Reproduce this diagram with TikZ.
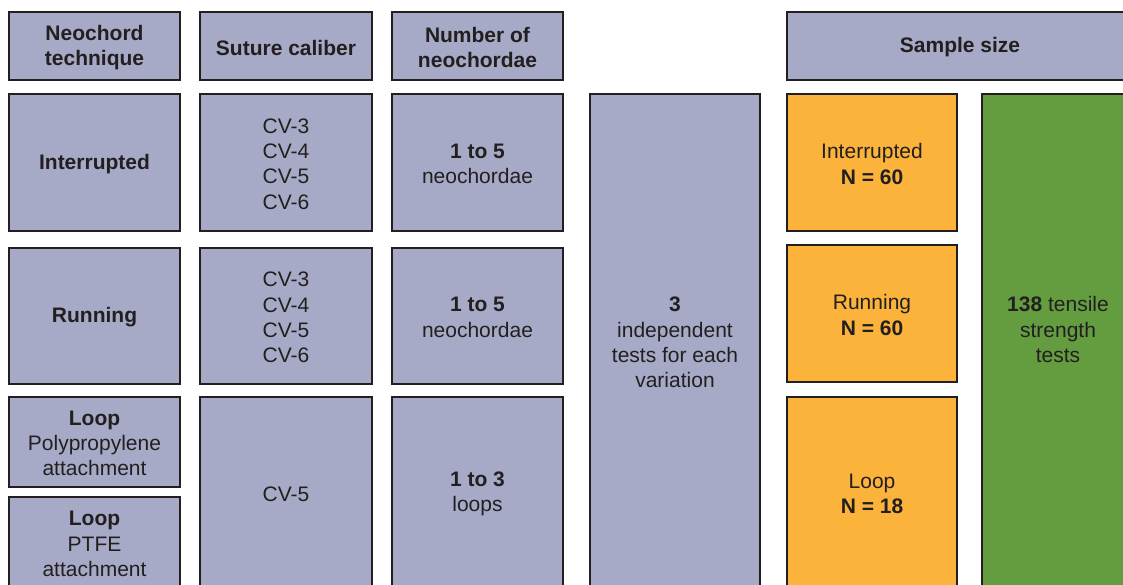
\documentclass[tikz,border=0pt]{standalone}
\usepackage{fontspec}
\setmainfont{Liberation Sans}
\definecolor{lav}{HTML}{A6AAC6}
\definecolor{amber}{HTML}{FBB33B}
\definecolor{leaf}{HTML}{649C40}
\definecolor{ink}{HTML}{231F20}
\newcommand{\txtsize}{\fontsize{21}{25.3}\selectfont}
\begin{document}
\begin{tikzpicture}[x=1pt,y=-1pt,
  plain/.style={inner sep=0pt,align=center,text=ink,font=\txtsize},
  cell/.style={draw=ink,line width=1.4pt,fill=lav,inner sep=0pt,outer sep=0pt},
  txt/.style={label={[plain,yshift=-1.5pt]center:{#1}}},
  hdr/.style={label={[plain,font=\txtsize\bfseries,yshift=-1.5pt]center:{#1}}},
  tally/.style={cell,fill=amber},
  total/.style={cell,fill=leaf}]
\useasboundingbox (0,0) rectangle (1123,584);
\begin{scope}
\clip (0,0) rectangle (1123,584);
% header row
\node[cell,minimum width=171pt,minimum height=68pt,hdr={Neochord\\technique}] (h1) at (94.5,46) {};
\node[cell,minimum width=172pt,minimum height=68pt,hdr={Suture caliber}] (h2) at (286,46) {};
\node[cell,minimum width=171pt,minimum height=68pt,hdr={Number of\\neochordae}] (h3) at (477.5,46) {};
\node[cell,minimum width=348pt,minimum height=68pt] (h5) at (961,46) {};
\node[plain,font=\txtsize\bfseries,yshift=-1.5pt] (h5t) at (960,46) {Sample size};
% interrupted row
\node[cell,minimum width=171pt,minimum height=137pt,hdr={Interrupted}] (a1) at (94.5,162.5) {};
\node[cell,minimum width=172pt,minimum height=137pt,txt={CV-3\\CV-4\\CV-5\\CV-6}] (a2) at (286,162.5) {};
\node[cell,minimum width=171pt,minimum height=137pt,txt={\textbf{1 to 5}\\neochordae}] (a3) at (477.5,162.5) {};
% running row
\node[cell,minimum width=171pt,minimum height=136pt,hdr={Running}] (b1) at (94.5,316) {};
\node[cell,minimum width=172pt,minimum height=136pt,txt={CV-3\\CV-4\\CV-5\\CV-6}] (b2) at (286,316) {};
\node[cell,minimum width=171pt,minimum height=136pt,txt={\textbf{1 to 5}\\neochordae}] (b3) at (477.5,316) {};
% loop rows
\node[cell,minimum width=171pt,minimum height=90pt,txt={\textbf{Loop}\\Polypropylene\\attachment}] (c1) at (94.5,442) {};
\node[cell,minimum width=171pt,minimum height=91pt,txt={\textbf{Loop}\\PTFE\\attachment}] (d1) at (94.5,542.5) {};
\node[cell,minimum width=172pt,minimum height=191pt,txt={CV-5}] (c2) at (286,492.5) {};
\node[cell,minimum width=171pt,minimum height=191pt,txt={\textbf{1 to 3}\\loops}] (c3) at (477.5,492.5) {};
% repeat tests column
\node[cell,minimum width=170pt,minimum height=494pt,txt={\textbf{3}\\independent\\tests for each\\variation}] (rep) at (675,341) {};
% sample size per technique
\node[tally,minimum width=170pt,minimum height=137pt,txt={Interrupted\\\textbf{N = 60}}] (n1) at (872,162.5) {};
\node[tally,minimum width=170pt,minimum height=137pt,txt={Running\\\textbf{N = 60}}] (n2) at (872,313.5) {};
\node[tally,minimum width=170pt,minimum height=191pt,txt={Loop\\\textbf{N = 18}}] (n3) at (872,492.5) {};
% overall total
\node[total,minimum width=153pt,minimum height=506pt] (tot) at (1058.5,347) {};
\node[plain,yshift=-1.5pt] (tott) at (1058,328) {\textbf{138} tensile\\strength\\tests};
\end{scope}
\end{tikzpicture}
\end{document}
